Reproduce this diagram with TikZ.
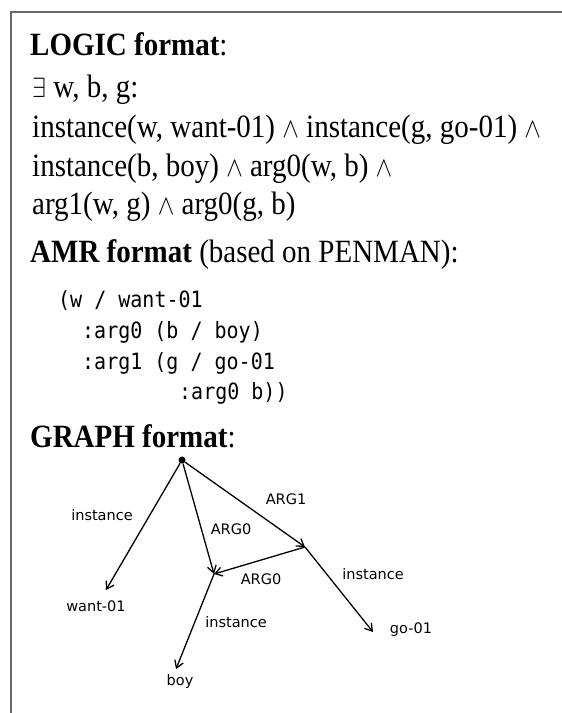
\documentclass[tikz,border=0pt]{standalone}
\usepackage{fontspec}
\setmainfont{Liberation Serif}
\setsansfont{DejaVu Sans}
\setmonofont{DejaVu Sans Mono}
\usetikzlibrary{arrows.meta}

\begin{document}
\begin{tikzpicture}[x=1pt,y=-1pt,
  headtxt/.style={anchor=base west,inner sep=0pt,yscale=1.12,font=\fontsize{29}{31}\selectfont},
  amrtxt/.style={anchor=base west,inner sep=0pt,yscale=1.12,font=\ttfamily\fontsize{20}{22}\selectfont},
  lbl/.style={font=\sffamily\fontsize{14.5}{16}\selectfont,inner sep=1pt},
  rel/.style={line width=1.3pt,-{Straight Barb[length=7pt,width=9pt]}}]
\useasboundingbox (0,0) rectangle (562,713);
\draw[black!60,line width=1.5pt] (562,12) -- (11,12) -- (11,713);
% logic
\node[headtxt] (logicHead) at (30,55) {\textbf{LOGIC format}:};
\node[headtxt] (logicA) at (32,97) {$\exists$ w, b, g:};
\node[headtxt] (logicB) at (32,137) {instance(w, want-01) $\wedge$ instance(g, go-01) $\wedge$};
\node[headtxt] (logicC) at (32,176) {instance(b, boy) $\wedge$ arg0(w, b) $\wedge$};
\node[headtxt] (logicD) at (32,214) {arg1(w, g) $\wedge$ arg0(g, b)};
% amr
\node[headtxt] (amrHead) at (30,262) {\textbf{AMR format} (based on PENMAN):};
\node[amrtxt] (amrA) at (58,307) {(w / want-01};
\node[amrtxt] (amrB) at (82,338) {:arg0 (b / boy)};
\node[amrtxt] (amrC) at (82,369) {:arg1 (g / go-01};
\node[amrtxt] (amrD) at (179,399) {:arg0 b))};
% graph
\node[headtxt] (graphHead) at (30,447) {\textbf{GRAPH format}:};
\node[circle,fill,inner sep=0pt,minimum size=7pt] (w) at (182,460) {};
\coordinate (b) at (214,574);
\coordinate (g) at (305,547);
\coordinate (wantEnd) at (106,590);
\coordinate (boyEnd) at (176,669);
\coordinate (goEnd) at (373,632);
\node[lbl] (want) at (96,606) {want-01};
\node[lbl] (boy) at (180,681) {boy};
\node[lbl] (go) at (411,630) {go-01};
\draw[rel] (w) -- (wantEnd);
\draw[rel] (w) -- (b);
\draw[rel] (w) -- (g);
\draw[rel] (g) -- (b);
\draw[rel] (g) -- (goEnd);
\draw[rel] (b) -- (boyEnd);
\node[lbl] (instW) at (102,515) {instance};
\node[lbl] (argWB) at (231,529) {ARG0};
\node[lbl] (argWG) at (286,499) {ARG1};
\node[lbl] (argGB) at (261,579) {ARG0};
\node[lbl] (instG) at (373,574) {instance};
\node[lbl] (instB) at (236,622) {instance};
\end{tikzpicture}
\end{document}
